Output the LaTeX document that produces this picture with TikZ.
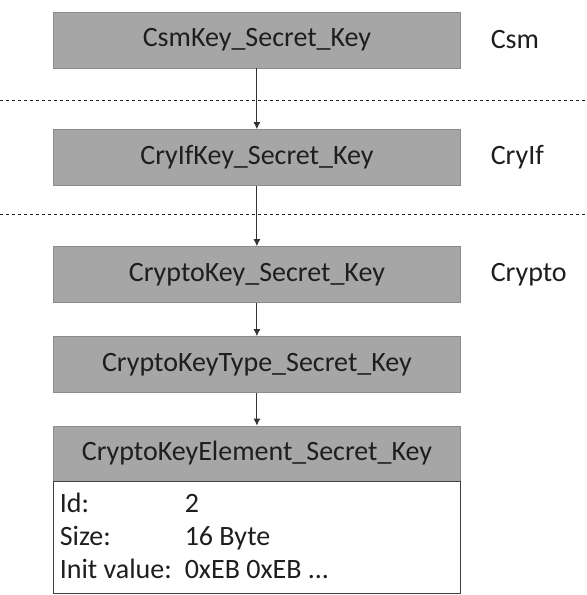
\documentclass[tikz,border=0pt]{standalone}
\usepackage{fontspec}
\setmainfont{Carlito}
\usetikzlibrary{arrows.meta}

\definecolor{keygray}{RGB}{166,166,166}
\definecolor{keyedge}{RGB}{140,140,140}
\definecolor{keytext}{RGB}{30,30,30}

\tikzset{every picture/.style={line width=0.75pt}}
\tikzset{
  keybox/.style={draw=keyedge, fill=keygray, minimum width=407, minimum height=56, inner sep=0pt, text=keytext, font=\fontsize{28}{32}\selectfont},
  layerlabel/.style={anchor=west, inner sep=0pt, text=keytext, font=\fontsize{28}{32}\selectfont},
  infotext/.style={anchor=base west, inner sep=0pt, text=keytext, font=\fontsize{28}{32}\selectfont},
  keyarrow/.style={draw=black!80, line width=0.9pt, -{Latex[length=7pt,width=7pt]}},
}

\begin{document}
\begin{tikzpicture}[x=1pt,y=1pt,yscale=-1,xscale=1]
\path (0,0) rectangle (586,595); %set diagram size

%Dashed layer borders
\draw [dashed, line width=0.8pt, black!85]  (0,100) -- (586,100) ;
\draw [dashed, line width=0.8pt, black!85]  (0,214) -- (586,214) ;

% Key boxes
\node [keybox] (csmkey) at (256.5,40) {CsmKey\_Secret\_Key};
\node [keybox] (cryifkey) at (256.5,157.5) {CryIfKey\_Secret\_Key};
\node [keybox] (cryptokey) at (256.5,274.5) {CryptoKey\_Secret\_Key};
\node [keybox] (keytype) at (256.5,364.5) {CryptoKeyType\_Secret\_Key};
\node [keybox, minimum height=55] (keyelem) at (256.5,453.5) {CryptoKeyElement\_Secret\_Key};
%Element body
\node [draw=black!75, fill=white, minimum width=407, minimum height=112, inner sep=0pt, anchor=north] (elembody) at (keyelem.south) {};

% Text Node
\node [layerlabel] (csmlabel) at (490,40) {Csm};
\node [layerlabel] (cryiflabel) at (490,157.5) {CryIf};
\node [layerlabel] (cryptolabel) at (490,274.5) {Crypto};

% Element values
\node [infotext] (idname) at (59,512) {Id:};
\node [infotext] (idvalue) at (184,512) {2};
\node [infotext] (sizename) at (59,545) {Size:};
\node [infotext] (sizevalue) at (184,545) {16 Byte};
\node [infotext] (initname) at (59,578) {Init value:};
\node [infotext] (initvalue) at (184,578) {0xEB 0xEB ...};

%Arrows
\draw [keyarrow] (csmkey) -- (cryifkey) ;
\draw [keyarrow] (cryifkey) -- (cryptokey) ;
\draw [keyarrow] (cryptokey) -- (keytype) ;
\draw [keyarrow] (keytype) -- (keyelem) ;

\end{tikzpicture}
\end{document}
